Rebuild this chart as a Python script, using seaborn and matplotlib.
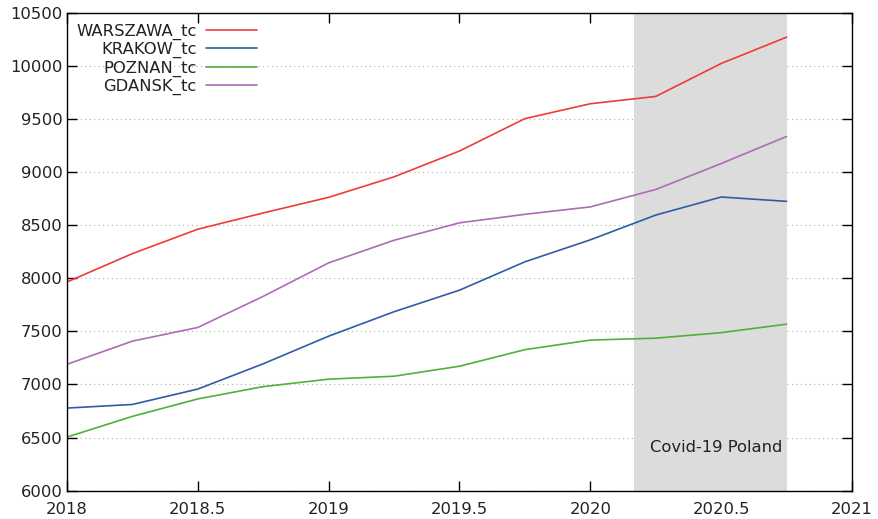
import matplotlib
matplotlib.use("Agg")
import matplotlib.pyplot as plt
import seaborn as sns
import pandas as pd

# Quarterly time index (decimal years)
quarters = [2018.0, 2018.25, 2018.5, 2018.75, 2019.0, 2019.25,
            2019.5, 2019.75, 2020.0, 2020.25, 2020.5, 2020.75]

# Trend-cycle components per city
warszawa_tc = [7965, 8232, 8462, 8615, 8762, 8955, 9198, 9503, 9643, 9712, 10022, 10270]
krakow_tc = [6778, 6812, 6957, 7195, 7455, 7685, 7888, 8155, 8362, 8595, 8765, 8724]
poznan_tc = [6505, 6700, 6864, 6980, 7050, 7078, 7172, 7328, 7418, 7436, 7488, 7568]
gdansk_tc = [7190, 7408, 7537, 7830, 8145, 8358, 8522, 8602, 8672, 8836, 9080, 9335]

series_names = ["WARSZAWA_tc", "KRAKOW_tc", "POZNAN_tc", "GDANSK_tc"]
series_colors = ["#ee3b3b", "#2f5ca8", "#4fb03a", "#ad6cb5"]

covid_start, covid_end = 2020.167, 2020.75
covid_label = "Covid-19 Poland"

df = pd.DataFrame({
    "year": quarters * 4,
    "value": warszawa_tc + krakow_tc + poznan_tc + gdansk_tc,
    "series": [n for n in series_names for _ in quarters],
})

sns.set_theme(style="white")
plt.rcParams["font.family"] = ["DejaVu Sans"]
FS = 11.8

fig = plt.figure(figsize=(8.79, 5.19), dpi=100)
ax = fig.add_axes([0.0762, 0.0545, 0.8931, 0.921])

ax.set_axisbelow(True)
ax.yaxis.grid(True, linestyle=(0, (1, 3)), color="#b0b0b0", linewidth=0.8)
ax.xaxis.grid(False)

ax.axvspan(covid_start, covid_end, color="#dcdcdc", zorder=1, linewidth=0)
ax.text(covid_end - 0.015, 6411, covid_label, ha="right", va="center",
        fontsize=FS, color="#222222", zorder=3)

sns.lineplot(data=df, x="year", y="value", hue="series", hue_order=series_names,
             palette=series_colors, linewidth=1.2, ax=ax, legend=False, zorder=2)

ax.set_xlim(2018, 2021)
ax.set_ylim(6000, 10500)
ax.set_xticks([2018, 2018.5, 2019, 2019.5, 2020, 2020.5, 2021])
ax.set_xticklabels(["2018", "2018.5", "2019", "2019.5", "2020", "2020.5", "2021"])
ax.set_yticks(list(range(6000, 10501, 500)))
ax.set_xlabel("")
ax.set_ylabel("")

for s in ax.spines.values():
    s.set_color("black")
    s.set_linewidth(1.0)
ax.tick_params(axis="both", which="major", direction="in", length=7, width=1,
               color="black", labelsize=FS, labelcolor="#222222",
               top=True, right=True, bottom=True, left=True, pad=3)
ax.tick_params(axis="x", pad=8)

handles = ax.get_lines()[:4]
leg = ax.legend(handles, series_names, loc="upper left", frameon=False,
                markerfirst=False, fontsize=FS, handlelength=3.1,
                handletextpad=0.6, labelspacing=0.13,
                bbox_to_anchor=(-0.003, 1.001), borderaxespad=0.3)
for t in leg.get_texts():
    t.set_color("#222222")

fig.savefig("out.png", dpi=100)
